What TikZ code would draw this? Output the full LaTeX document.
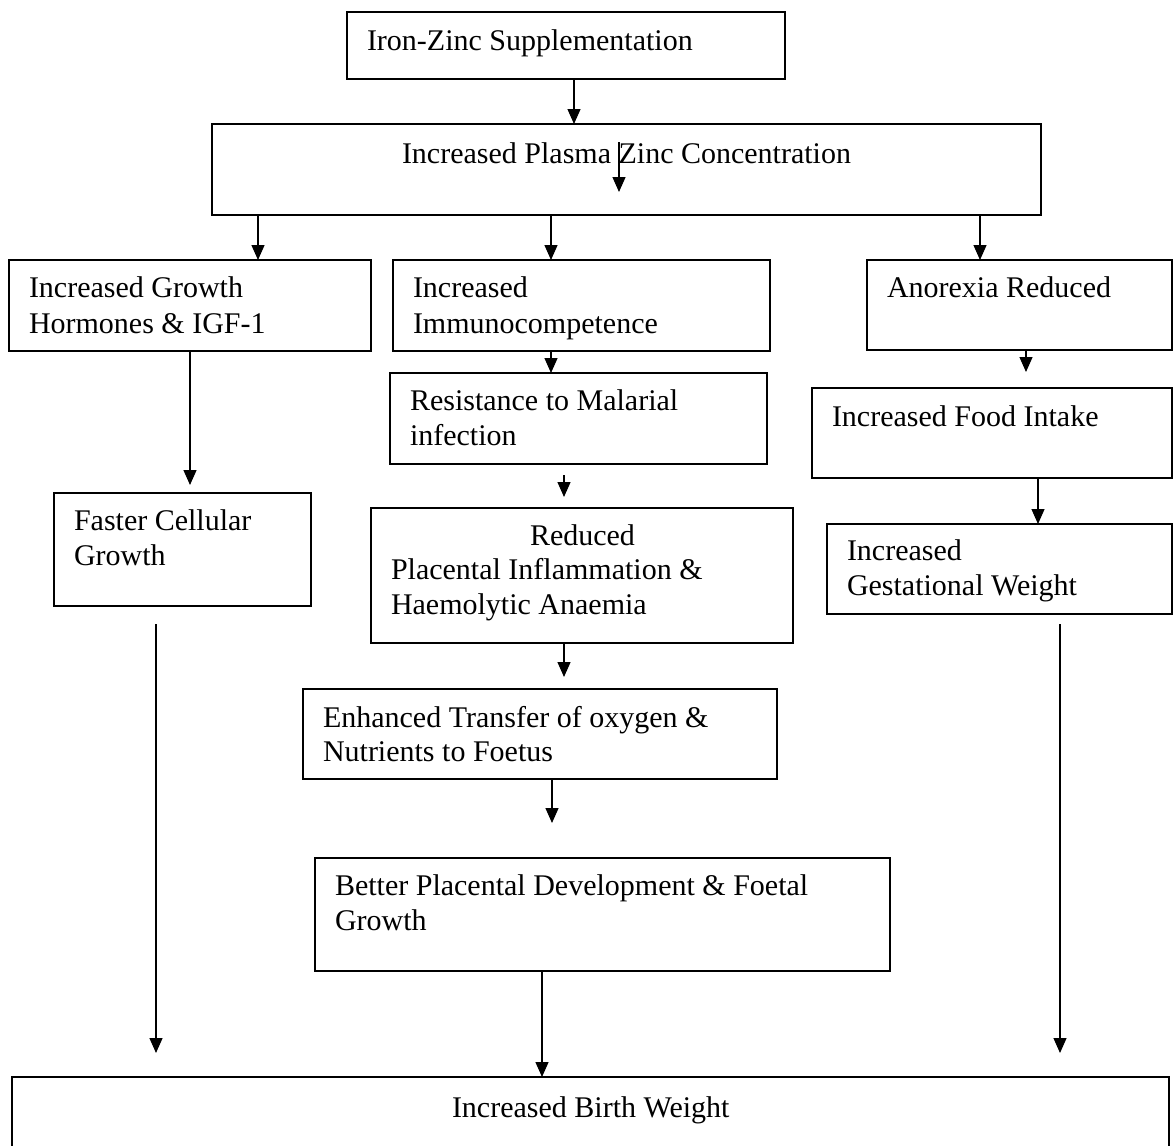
\documentclass[tikz,border=0pt]{standalone}
\usepackage{fontspec}
\setmainfont{Liberation Serif}
\usetikzlibrary{arrows.meta}
\begin{document}
\begin{tikzpicture}[x=1pt,y=-1pt,
  box/.style={draw, line width=1.4pt, inner sep=0pt, outer sep=0pt, anchor=north west},
  txt/.style={anchor=base west, inner sep=0pt, outer sep=0pt, font=\fontsize{30}{35}\selectfont},
  arr/.style={line width=1.3pt, -{Triangle[length=15pt,width=13pt]}}]
\useasboundingbox (0,0) rectangle (1173,1146);
\clip (0,0) rectangle (1173,1146);
% boxes
\node[box, minimum width=438pt, minimum height=67pt]  (A) at (347,12)  {};
\node[box, minimum width=829pt, minimum height=91pt]  (B) at (212,124) {};
\node[box, minimum width=362pt, minimum height=91pt]  (C) at (9,260)   {};
\node[box, minimum width=377pt, minimum height=91pt]  (D) at (393,260) {};
\node[box, minimum width=305pt, minimum height=90pt]  (E) at (867,260) {};
\node[box, minimum width=257pt, minimum height=113pt] (F) at (54,493)  {};
\node[box, minimum width=377pt, minimum height=91pt]  (G) at (390,373) {};
\node[box, minimum width=422pt, minimum height=135pt] (H) at (371,508) {};
\node[box, minimum width=474pt, minimum height=90pt]  (I) at (303,689) {};
\node[box, minimum width=575pt, minimum height=113pt] (J) at (315,858) {};
\node[box, minimum width=1157pt, minimum height=90pt] (K) at (12,1077) {};
\node[box, minimum width=360pt, minimum height=90pt]  (L) at (812,388) {};
\node[box, minimum width=345pt, minimum height=90pt]  (M) at (827,524) {};
% texts
\node[txt] (tA)  at (367,50)   {Iron-Zinc Supplementation};
\node[txt] (tB)  at (402,163)  {Increased Plasma Zinc Concentration};
\node[txt] (tC1) at (29,297)   {Increased Growth};
\node[txt] (tC2) at (29,333)   {Hormones \& IGF-1};
\node[txt] (tD1) at (413,297)  {Increased};
\node[txt] (tD2) at (413,333)  {Immunocompetence};
\node[txt] (tE)  at (887,297)  {Anorexia Reduced};
\node[txt] (tF1) at (74,530)   {Faster Cellular};
\node[txt] (tF2) at (74,565)   {Growth};
\node[txt] (tG1) at (410,410)  {Resistance to Malarial};
\node[txt] (tG2) at (410,445)  {infection};
\node[txt] (tH1) at (530,545)  {Reduced};
\node[txt] (tH2) at (391,579)  {Placental Inflammation \&};
\node[txt] (tH3) at (391,614)  {Haemolytic Anaemia};
\node[txt] (tI1) at (323,727)  {Enhanced Transfer of oxygen \&};
\node[txt] (tI2) at (323,761)  {Nutrients to Foetus};
\node[txt] (tJ1) at (335,895)  {Better Placental Development \& Foetal};
\node[txt] (tJ2) at (335,930)  {Growth};
\node[txt] (tK)  at (452,1117) {Increased Birth Weight};
\node[txt] (tL)  at (832,426)  {Increased Food Intake};
\node[txt] (tM1) at (847,560)  {Increased};
\node[txt] (tM2) at (847,595)  {Gestational Weight};
% free connector ends
\coordinate (pB1) at (619,142);
\coordinate (pB2) at (619,192);
\coordinate (pF)  at (190,485);
\coordinate (pG1) at (564,475);
\coordinate (pG2) at (564,497);
\coordinate (pI)  at (564,677);
\coordinate (pJ)  at (552,823);
\coordinate (pL)  at (1026,372);
\coordinate (l1)  at (156,624);
\coordinate (l2)  at (156,1053);
\coordinate (r1)  at (1060,624);
\coordinate (r2)  at (1060,1053);
\coordinate (xa)  at (574,0);
\coordinate (xc)  at (258,0);
\coordinate (xd)  at (551,0);
\coordinate (xe)  at (980,0);
\coordinate (xm)  at (1038,0);
\coordinate (xk)  at (542,0);
% connectors
\draw[arr] (A.south -| xa) -- (B.north -| xa);
\draw[arr] (pB1) -- (pB2);
\draw[arr] (B.south -| xc) -- (C.north -| xc);
\draw[arr] (B.south -| xd) -- (D.north -| xd);
\draw[arr] (B.south -| xe) -- (E.north -| xe);
\draw[arr] (C.south -| pF) -- (pF);
\draw[arr] (D.south -| xd) -- (G.north -| xd);
\draw[arr] (pG1) -- (pG2);
\draw[arr] (H.south -| pI) -- (pI);
\draw[arr] (I.south -| pJ) -- (pJ);
\draw[arr] (J.south -| xk) -- (K.north -| xk);
\draw[arr] (E.south -| pL) -- (pL);
\draw[arr] (L.south -| xm) -- (M.north -| xm);
\draw[arr] (l1) -- (l2);
\draw[arr] (r1) -- (r2);
\end{tikzpicture}
\end{document}
